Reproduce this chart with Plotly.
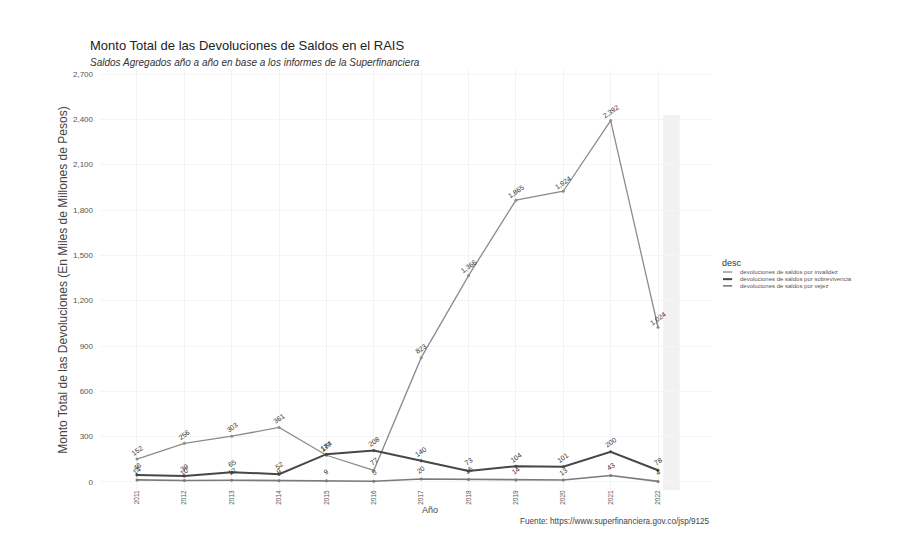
import plotly.graph_objects as go

years = [2011, 2012, 2013, 2014, 2015, 2016, 2017, 2018, 2019, 2020, 2021, 2022]
invalidez = [152, 256, 303, 361, 177, 77, 823, 1366, 1865, 1924, 2392, 1024]
sobrevivencia = [46, 39, 65, 52, 184, 208, 140, 73, 104, 101, 200, 78]
vejez = [14, 10, 12, 9, 9, 5, 20, 16, 14, 13, 43, 4]

series_names = ["devoluciones de saldos por invalidez",
                "devoluciones de saldos por sobrevivencia",
                "devoluciones de saldos por vejez"]
series_vals = [invalidez, sobrevivencia, vejez]
series_colors = ["#8c8c8c", "#474747", "#7a7a7a"]
series_widths = [1.3, 2.0, 1.6]

y_ticks = [0, 300, 600, 900, 1200, 1500, 1800, 2100, 2400, 2700]

fig = go.Figure()
for name, vals, col, w in zip(series_names, series_vals, series_colors, series_widths):
    fig.add_trace(go.Scatter(x=years, y=vals, mode="lines+markers", name=name,
                             line=dict(color=col, width=w), showlegend=False,
                             marker=dict(color=col, size=3)))

annotations = []
for vals in series_vals:
    for xv, yv in zip(years, vals):
        annotations.append(dict(x=xv, y=yv, xref="x", yref="y", text=f"{yv:,}",
                                showarrow=False, textangle=-35, yshift=9,
                                font=dict(size=7, color="#333")))

annotations += [
    dict(text="Monto Total de las Devoluciones de Saldos en el RAIS", xref="paper", yref="paper",
         x=-0.0196, y=1.0595, xanchor="left", yanchor="middle", showarrow=False,
         font=dict(size=13, color="#222")),
    dict(text="<i>Saldos Agregados año a año en base a los informes de la Superfinanciera</i>",
         xref="paper", yref="paper", x=-0.0196, y=1.019, xanchor="left", yanchor="middle",
         showarrow=False, font=dict(size=10, color="#333")),
    dict(text="Fuente: https://www.superfinanciera.gov.co/jsp/9125", xref="paper", yref="paper",
         x=1.0, y=-0.076, xanchor="right", yanchor="middle", showarrow=False,
         font=dict(size=8.2, color="#444")),
    dict(text="Año", xref="paper", yref="paper", x=0.54, y=-0.048, xanchor="center",
         yanchor="middle", showarrow=False, font=dict(size=9, color="#444")),
    dict(text="desc", xref="paper", yref="paper", x=1.013, y=0.540, xanchor="left",
         yanchor="middle", showarrow=False, font=dict(size=9, color="#333")),
]

legend_y = [0.519, 0.502, 0.486]
shapes = [dict(type="rect", xref="x", yref="paper", x0=2022.11, x1=2022.46, y0=0, y1=0.893,
               fillcolor="rgba(200,200,200,0.25)", line=dict(width=0), layer="below")]
for name, col, w, ly in zip(series_names, series_colors, series_widths, legend_y):
    annotations.append(dict(text=name, xref="paper", yref="paper", x=1.0425, y=ly,
                            xanchor="left", yanchor="middle", showarrow=False,
                            font=dict(size=6, color="#555")))
    shapes.append(dict(type="line", xref="paper", yref="paper", x0=1.018, x1=1.033,
                       y0=ly, y1=ly, line=dict(color=col, width=w)))

fig.update_layout(
    width=902, height=556,
    margin=dict(l=92, r=198, t=62, b=74),
    paper_bgcolor="white", plot_bgcolor="white",
    font=dict(family="Liberation Sans, Arial, sans-serif", color="#444"),
    annotations=annotations,
    shapes=shapes,
    showlegend=False,
    xaxis=dict(range=[2010.219, 2023.14], tickmode="array", tickvals=years,
               ticktext=[str(y) for y in years], tickangle=-90,
               tickfont=dict(size=6.5, color="#555555"), ticklabelstandoff=-2,
               showgrid=True, gridcolor="#f2f2f2", zeroline=False),
    yaxis=dict(range=[-53, 2726.5], tickmode="array", tickvals=y_ticks,
               ticktext=[f"{v:,}" for v in y_ticks], tickfont=dict(size=8, color="#555555"),
               ticklabelstandoff=6,
               showgrid=True, gridcolor="#f5f5f5", zeroline=False,
               title=dict(text="Monto Total de las Devoluciones (En Miles de Millones de Pesos)",
                          font=dict(size=12, color="#444"), standoff=2)),
)

fig.write_html("out.html")
